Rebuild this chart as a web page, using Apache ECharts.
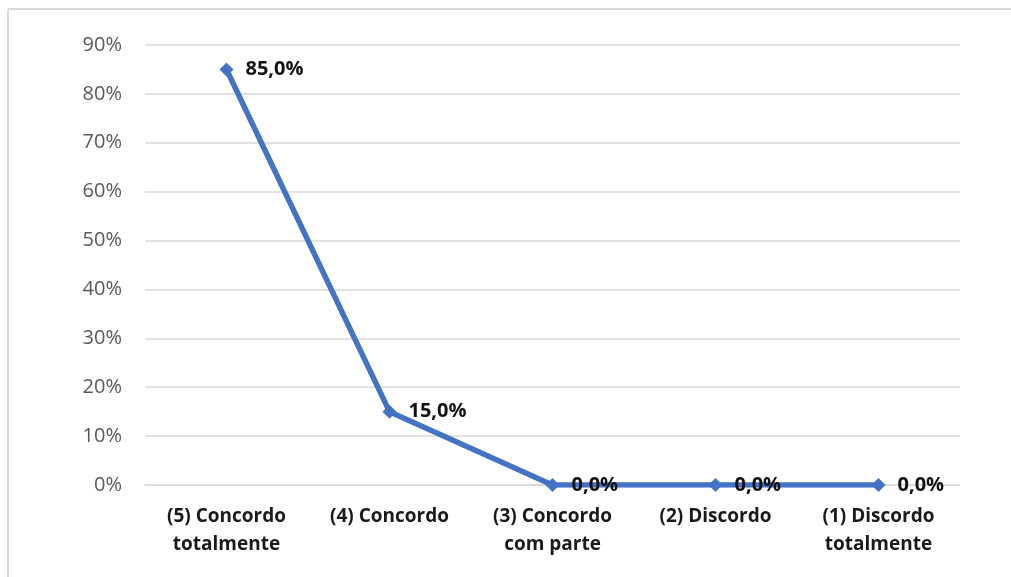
<!DOCTYPE html>
<html>
<head>
<meta charset="utf-8">
<script src="https://cdn.jsdelivr.net/npm/echarts@6/dist/echarts.min.js"></script>
<style>
  html, body { margin: 0; padding: 0; background: #ffffff; overflow: hidden; }
  #chart { width: 1011px; height: 577px; }
</style>
</head>
<body>
<div id="chart"></div>
<script>
// Likert answer categories and their share of responses (%)
const categories = [
  '(5) Concordo\ntotalmente',
  '(4) Concordo',
  '(3) Concordo\ncom parte',
  '(2) Discordo',
  '(1) Discordo\ntotalmente'
];
const shares = [85.0, 15.0, 0.0, 0.0, 0.0];
const yTicks = [0, 10, 20, 30, 40, 50, 60, 70, 80, 90];

const chart = echarts.init(document.getElementById('chart'), null, { renderer: 'canvas' });
chart.setOption({
  backgroundColor: '#ffffff',
  animation: false,
  // chart-area frame: left and top edges
  graphic: [
    { type: 'line', shape: { x1: 8, y1: 9, x2: 8, y2: 577 }, style: { stroke: '#d9d9d9', lineWidth: 2 } },
    { type: 'line', shape: { x1: 8, y1: 9, x2: 1011, y2: 9 }, style: { stroke: '#d9d9d9', lineWidth: 2 } }
  ],
  grid: { left: 145, right: 51, top: 45, bottom: 92, containLabel: false },
  xAxis: {
    type: 'category',
    data: categories,
    boundaryGap: true,
    axisLine: { show: true, lineStyle: { color: '#d9d9d9', width: 1.5 } },
    axisTick: { show: false },
    axisLabel: {
      color: '#1a1a1a', fontFamily: 'Open Sans', fontWeight: 'bold',
      fontSize: 19, lineHeight: 28, margin: 18, interval: 0
    }
  },
  yAxis: {
    type: 'value',
    min: yTicks[0], max: yTicks[yTicks.length - 1], interval: 10,
    axisLine: { show: false },
    axisTick: { show: false },
    splitLine: { lineStyle: { color: '#d9d9d9', width: 1.5 } },
    axisLabel: {
      color: '#595959', fontFamily: 'Open Sans', fontSize: 20, margin: 23,
      formatter: v => v + '%'
    }
  },
  series: [{
    type: 'line',
    data: shares,
    symbol: 'diamond',
    symbolSize: 14,
    lineStyle: { color: '#4472C4', width: 5.5 },
    itemStyle: { color: '#4472C4' },
    label: {
      show: true, position: 'right', distance: 12,
      color: '#111111', fontFamily: 'Open Sans', fontWeight: 'bold', fontSize: 20,
      formatter: p => p.value.toFixed(1).replace('.', ',') + '%'
    }
  }]
});
</script>
</body>
</html>
